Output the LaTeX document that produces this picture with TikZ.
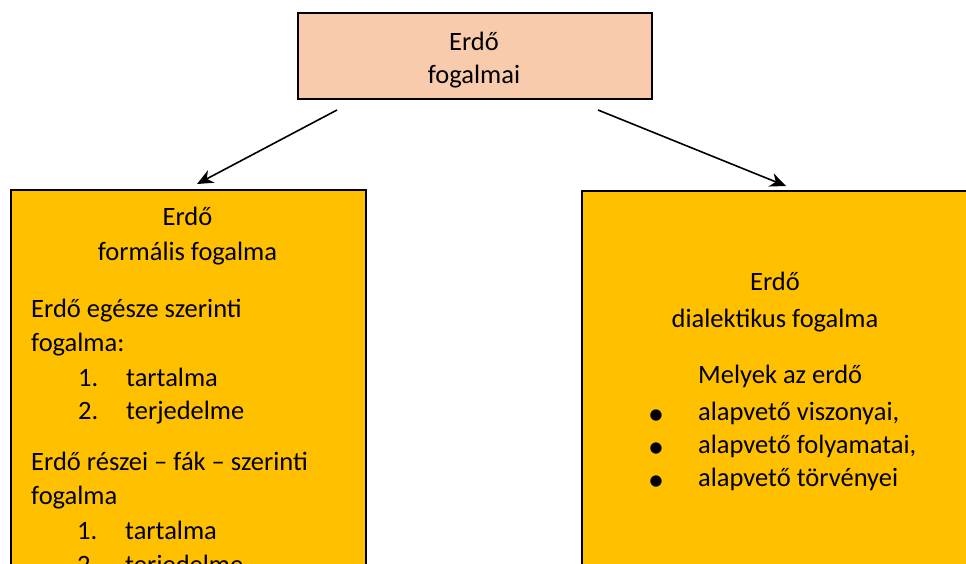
\documentclass[tikz,border=0pt]{standalone}
\usepackage{fontspec}
\setmainfont{Carlito}
\usetikzlibrary{arrows.meta}
\definecolor{salmon}{HTML}{F8CBAD}
\definecolor{amber}{HTML}{FFC000}
\tikzset{
  box/.style={draw=black, line width=1.6pt, inner sep=0pt, anchor=north west},
  txt/.style={inner sep=0pt, anchor=base west, font=\fontsize{26.5}{30}\selectfont},
  ctxt/.style={inner sep=0pt, anchor=base, font=\fontsize{26.5}{30}\selectfont},
  bul/.style={inner sep=0pt, anchor=base, font=\fontsize{32}{32}\selectfont},
  conn/.style={line width=1.6pt, -{Stealth[length=16pt,width=14pt,inset=5pt]}}
}
\begin{document}
\begin{tikzpicture}[x=1pt,y=-1pt]
  \useasboundingbox (0,0) rectangle (966,563);
  \clip (0,0) rectangle (966,563);
  % boxes
  \node[box, fill=salmon, minimum width=354pt, minimum height=86pt] (top) at (297,12) {};
  \node[box, fill=amber, minimum width=355pt, minimum height=420pt] (left) at (10,189) {};
  \node[box, fill=amber, minimum width=420pt, minimum height=420pt] (right) at (581,190) {};
  % top box text
  \node[ctxt] (t1) at (474,50) {Erdő};
  \node[ctxt] (t2) at (474,83) {fogalmai};
  % connectors
  \coordinate (la) at (337,110);
  \coordinate (lb) at (197,184);
  \coordinate (ra) at (598,110);
  \coordinate (rb) at (786,186);
  \draw[conn] (la) -- (lb);
  \draw[conn] (ra) -- (rb);
  % left box text
  \node[ctxt] (l1) at (187.5,225) {Erdő};
  \node[ctxt] (l2) at (187.5,260) {formális fogalma};
  \node[txt] (l3) at (31,317) {Erdő egésze szerinti};
  \node[txt] (l4) at (31,351) {fogalma:};
  \node[txt] (l5n) at (78,386) {1.};
  \node[txt] (l5) at (126,386) {tartalma};
  \node[txt] (l6n) at (78,419) {2.};
  \node[txt] (l6) at (126,419) {terjedelme};
  \node[txt] (l7) at (31,470) {Erdő részei – fák – szerinti};
  \node[txt] (l8) at (31,504) {fogalma};
  \node[txt] (l9n) at (77,539) {1.};
  \node[txt] (l9) at (125,539) {tartalma};
  \node[txt] (l10n) at (77,573) {2.};
  \node[txt] (l10) at (125,573) {terjedelme};
  % right box text
  \node[ctxt] (r1) at (775,290) {Erdő};
  \node[ctxt] (r2) at (775,327) {dialektikus fogalma};
  \node[txt] (r3) at (698,383) {Melyek az erdő};
  \node[bul] (b1) at (656,424) {•};
  \node[txt] (r4) at (698,420) {alapvető viszonyai,};
  \node[bul] (b2) at (656,457) {•};
  \node[txt] (r5) at (698,453) {alapvető folyamatai,};
  \node[bul] (b3) at (656,490) {•};
  \node[txt] (r6) at (698,486) {alapvető törvényei};
\end{tikzpicture}
\end{document}
